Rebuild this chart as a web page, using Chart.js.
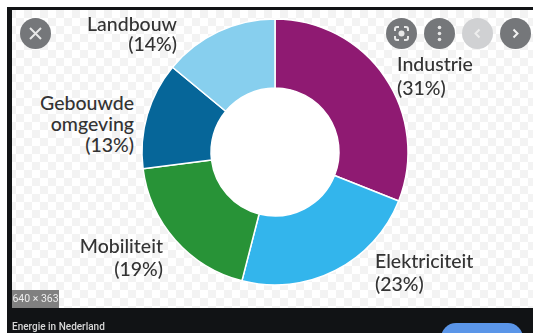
<!DOCTYPE html>
<html>
<head>
<meta charset="utf-8">
<title>Energie in Nederland</title>
<script src="https://cdn.jsdelivr.net/npm/chart.js@4"></script>
<style>
html, body { margin: 0; padding: 0; background: #fff; overflow: hidden; }
#page { position: relative; width: 533px; height: 333px; overflow: hidden; background: #fff; }
#frame { position: absolute; left: 7px; top: 7px; width: 526px; height: 326px; background: #111315; }
#viewer {
    position: absolute; left: 12px; top: 10px; width: 521px; height: 298px;
    background-color: #fff;
    background-image: repeating-conic-gradient(#f3f3f3 0 25%, #fff 0 50%);
    background-size: 16px 16px;
    background-position: 4px 0;
}
#chart-area { position: absolute; left: 135px; top: 12px; }
.lbl {
    position: absolute; font-family: Lato, sans-serif; font-size: 19.5px; font-weight: 500;
    color: #333; white-space: nowrap; line-height: 21px;
}
.btn { position: absolute; width: 31px; height: 31px; border-radius: 50%; background: #75777a; }
.btn.off { background: #d0d1d3; }
.btn svg { position: absolute; left: 0; top: 0; }
#size {
    position: absolute; left: 12px; top: 290px; width: 47px; height: 18px; background: #808080;
    color: #eee; font: 10.5px/18px Roboto, sans-serif; text-align: center;
}
#caption { position: absolute; left: 12px; top: 320px; color: #d8d8d8; font: 500 10px/13px Roboto, sans-serif; }
#visit { position: absolute; left: 441px; top: 323px; width: 82px; height: 30px; border-radius: 15px; background: #5a95e8; }
</style>
</head>
<body>
<div id="page">
    <div id="frame"></div>
    <div id="viewer"></div>
    <canvas id="chart-area" width="280" height="280"></canvas>
    <div id="labels"></div>

    <div class="btn" style="left:19.5px;top:17.5px">
        <svg width="31" height="31"><path d="M10 10L21 21M21 10L10 21" stroke="#e8e8e8" stroke-width="2"/></svg>
    </div>
    <div class="btn" style="left:385.5px;top:17.5px">
        <svg width="31" height="31" fill="none" stroke="#e8e8e8" stroke-width="2">
            <path d="M9 13V11Q9 9 11 9H13M18 9H20Q22 9 22 11V13M22 18V20Q22 22 20 22H18M13 22H11Q9 22 9 20V18"/>
            <circle cx="15.5" cy="15.5" r="3" fill="#e8e8e8" stroke="none"/>
        </svg>
    </div>
    <div class="btn" style="left:423.5px;top:17.5px">
        <svg width="31" height="31" fill="#e8e8e8"><circle cx="15.5" cy="9.5" r="1.8"/><circle cx="15.5" cy="15.5" r="1.8"/><circle cx="15.5" cy="21.5" r="1.8"/></svg>
    </div>
    <div class="btn off" style="left:461.5px;top:17.5px">
        <svg width="31" height="31"><path d="M17.5 11.5L13.5 15.5L17.5 19.5" fill="none" stroke="#eee" stroke-width="2"/></svg>
    </div>
    <div class="btn" style="left:499.5px;top:17.5px">
        <svg width="31" height="31"><path d="M13.5 11.5L17.5 15.5L13.5 19.5" fill="none" stroke="#f2f2f2" stroke-width="2"/></svg>
    </div>

    <div id="size">640 × 363</div>
    <div id="caption">Energie in Nederland</div>
    <div id="visit"></div>
</div>

<script>
var categories = ['Industrie', 'Elektriciteit', 'Mobiliteit', 'Gebouwde omgeving', 'Landbouw'];
var shares = [31, 23, 19, 13, 14];
var sliceColors = ['#8f1a72', '#33b5ec', '#289337', '#066699', '#87cfee'];

// label lines per slice, anchored by side: [x, top, align]
var labelLines = [['Industrie'], ['Elektriciteit'], ['Mobiliteit'], ['Gebouwde', 'omgeving'], ['Landbouw']];
var labelSpots = [[397, 52, 'left', 24], [375, 249, 'left', 23], [163, 234, 'right', 23], [134, 92, 'right', 21], [177, 14, 'right', 20]];

var labelBox = document.getElementById('labels');
categories.forEach(function(name, i){
    var spot = labelSpots[i];
    var div = document.createElement('div');
    div.className = 'lbl';
    div.style.top = spot[1] + 'px';
    div.style.lineHeight = spot[3] + 'px';
    div.style.textAlign = spot[2];
    if(spot[2] === 'left'){
        div.style.left = spot[0] + 'px';
    }else{
        div.style.right = (533 - spot[0]) + 'px';
    }
    div.innerHTML = labelLines[i].concat('(' + shares[i] + '%)').join('<br>');
    labelBox.appendChild(div);
});

// the hole of the ring stays plain white over the checkered backdrop
var whiteHole = {
    id: 'whiteHole',
    beforeDatasetsDraw: function(chart){
        var arc = chart.getDatasetMeta(0).data[0];
        var c = chart.ctx;
        c.save();
        c.fillStyle = '#fff';
        c.beginPath();
        c.arc(arc.x, arc.y, arc.innerRadius, 0, Math.PI * 2);
        c.fill();
        c.restore();
    }
};

var ctx = document.getElementById('chart-area').getContext('2d');
window.myDoughnut = new Chart(ctx, {
    type: 'doughnut',
    data: {
        labels: categories,
        datasets: [{
            data: shares,
            backgroundColor: sliceColors,
            borderColor: '#fff',
            borderWidth: 1.5,
            radius: 133,
            cutout: 67
        }]
    },
    options: {
        responsive: false,
        animation: false,
        layout: { padding: 0 },
        plugins: {
            legend: { display: false },
            tooltip: { enabled: false }
        }
    },
    plugins: [whiteHole]
});
</script>
</body>
</html>
